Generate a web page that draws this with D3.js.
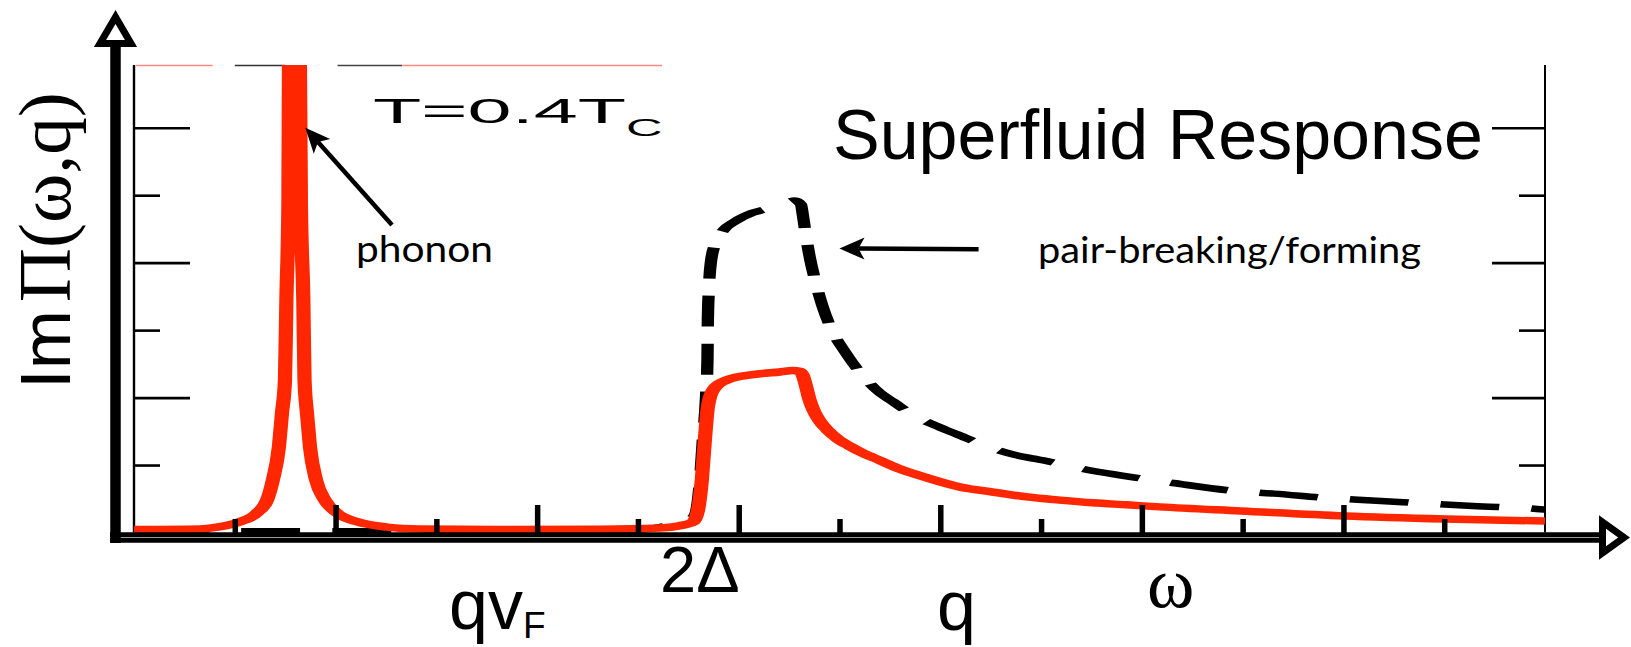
<!DOCTYPE html>
<html>
<head>
<meta charset="utf-8">
<script src="https://cdn.jsdelivr.net/npm/d3@7/dist/d3.min.js"></script>
<style>
  html, body { margin: 0; padding: 0; background: #fff; }
  svg { display: block; }
</style>
</head>
<body>
<svg id="chart" width="1631" height="647"></svg>
<script>
// Im Π(ω,q) of the superfluid at T = 0.4 Tc (solid red) and the
// pair-breaking/forming continuum without the phonon (dashed black).
// x: frequency in axis-tick units, y: response in axis-tick units.
const superfluidResponse = [
  [0.000, 0.045], [0.327, 0.052], [0.412, 0.080], [0.526, 0.160], [0.610, 0.290],
  [0.660, 0.480], [0.689, 0.780], [0.719, 1.270], [0.734, 1.770], [0.749, 2.260],
  [0.756, 3.450], [0.766, 4.860], [0.769, 6.930], [0.796, 9.500], [0.823, 6.930],
  [0.828, 4.860], [0.840, 3.450], [0.846, 2.260], [0.858, 1.770], [0.873, 1.270],
  [0.903, 0.780], [0.947, 0.480], [1.007, 0.290], [1.106, 0.160], [1.255, 0.080],
  [1.419, 0.052], [1.815, 0.046], [2.312, 0.048], [2.609, 0.065], [2.708, 0.100],
  [2.773, 0.156], [2.798, 0.330], [2.817, 0.780], [2.832, 1.370], [2.847, 1.860],
  [2.872, 2.110], [2.941, 2.260], [3.070, 2.340], [3.204, 2.380], [3.269, 2.400],
  [3.300, 2.390], [3.318, 2.330], [3.333, 2.180], [3.350, 1.980], [3.370, 1.820],
  [3.400, 1.660], [3.440, 1.520], [3.490, 1.390], [3.550, 1.280], [3.620, 1.170],
  [3.700, 1.070], [3.800, 0.940], [3.934, 0.810], [4.097, 0.675], [4.261, 0.600],
  [4.430, 0.527], [4.593, 0.480], [4.757, 0.440], [4.926, 0.410], [5.089, 0.380],
  [5.491, 0.320], [6.007, 0.245], [6.508, 0.200], [7.000, 0.170]
];

const pairContinuum = [
  [0.000, 0.020], [1.000, 0.020], [2.000, 0.025], [2.500, 0.045], [2.610, 0.080],
  [2.690, 0.130], [2.723, 0.160], [2.760, 0.200], [2.783, 0.260], [2.808, 0.780],
  [2.822, 1.370], [2.837, 1.970], [2.845, 2.560], [2.847, 3.150], [2.852, 3.600],
  [2.862, 4.010], [2.887, 4.300], [2.927, 4.490], [2.981, 4.610], [3.070, 4.740],
  [3.155, 4.810], [3.239, 4.890], [3.279, 4.920], [3.309, 4.860], [3.318, 4.710],
  [3.333, 4.410], [3.353, 4.070], [3.378, 3.750], [3.413, 3.380], [3.462, 3.000],
  [3.527, 2.680], [3.611, 2.340], [3.700, 2.070], [3.765, 1.940], [3.864, 1.740],
  [3.973, 1.590], [4.087, 1.450], [4.236, 1.270], [4.370, 1.150], [4.509, 1.070],
  [4.683, 0.957], [4.975, 0.810], [5.154, 0.734], [5.461, 0.616], [5.655, 0.576],
  [5.952, 0.505], [6.141, 0.475], [6.453, 0.423], [6.642, 0.393], [6.959, 0.349],
  [7.000, 0.340]
];

const xMajorTicks = [1, 2, 3, 4, 5, 6];
const xMinorTicks = [0.5, 1.5, 2.5, 3.5, 4.5, 5.5, 6.5];
const yMajorTicks = [2, 4, 6];
const yMinorTicks = [1, 3, 5];
const xDomain = [0, 7];
const yDomain = [0, 6.93];

const RED = "#ff2600";
const svg = d3.select("#chart");

const frame = { left: 134, right: 1545, top: 65, bottom: 532.5 };
// the plot panel is drawn horizontally stretched
const stretch = 1.9;

const x = d3.scaleLinear().domain(xDomain).range([frame.left, frame.right]);
const xLocal = d3.scaleLinear().domain(xDomain).range([0, (frame.right - frame.left) / stretch]);
const y = d3.scaleLinear().domain(yDomain).range([frame.bottom, frame.top]);

const defs = svg.append("defs");
defs.append("clipPath").attr("id", "panel-clip")
  .append("rect")
  .attr("x", 0).attr("y", frame.top)
  .attr("width", (frame.right - frame.left) / stretch)
  .attr("height", 480);

// ---- panel frame ----
svg.append("line")
  .attr("x1", frame.left).attr("x2", frame.left)
  .attr("y1", frame.top).attr("y2", frame.bottom)
  .attr("stroke", "#000").attr("stroke-width", 2.4);
svg.append("line")
  .attr("x1", frame.right).attr("x2", frame.right)
  .attr("y1", frame.top).attr("y2", frame.bottom)
  .attr("stroke", "#000").attr("stroke-width", 2);

// top edge of the frame, only partly drawn
const topEdge = [
  { a: 0.01, b: 0.39, c: "#ff8a80" },
  { a: 0.50, b: 0.75, c: "#333" },
  { a: 1.01, b: 1.33, c: "#444" },
  { a: 1.33, b: 2.62, c: "#ff8a80" }
];
svg.append("g").selectAll("line").data(topEdge).join("line")
  .attr("x1", d => x(d.a)).attr("x2", d => x(d.b))
  .attr("y1", frame.top + 0.5).attr("y2", frame.top + 0.5)
  .attr("stroke", d => d.c).attr("stroke-width", 1.4);

// ---- curves ----
const panel = svg.append("g")
  .attr("transform", `translate(${frame.left},0) scale(${stretch},1)`);

const line = d3.line()
  .x(d => xLocal(d[0]))
  .y(d => y(d[1]))
  .curve(d3.curveMonotoneX);

panel.append("path")
  .datum(pairContinuum)
  .attr("clip-path", "url(#panel-clip)")
  .attr("d", line)
  .attr("fill", "none")
  .attr("stroke", "#000")
  .attr("stroke-width", 6.5)
  .attr("stroke-dasharray", "31,17")
  .attr("stroke-dashoffset", 39.6);

panel.append("path")
  .datum(superfluidResponse)
  .attr("clip-path", "url(#panel-clip)")
  .attr("d", line)
  .attr("fill", "none")
  .attr("stroke", RED)
  .attr("stroke-width", 7.5)
  .attr("stroke-linejoin", "round");

// ---- ticks ----
function styleTicks(g, w) {
  g.select(".domain").remove();
  g.selectAll(".tick line").attr("stroke", "#000").attr("stroke-width", w);
  g.selectAll(".tick text").remove();
}
const xAxisY = 533;
svg.append("g").attr("transform", `translate(0,${xAxisY})`)
  .call(d3.axisTop(x).tickValues(xMajorTicks).tickSize(28).tickFormat(""))
  .call(g => styleTicks(g, 5.5));
svg.append("g").attr("transform", `translate(0,${xAxisY})`)
  .call(d3.axisTop(x).tickValues(xMinorTicks).tickSize(14).tickFormat(""))
  .call(g => styleTicks(g, 5.5));

svg.append("g").attr("transform", `translate(${frame.left},0)`)
  .call(d3.axisRight(y).tickValues(yMajorTicks).tickSize(56).tickFormat(""))
  .call(g => styleTicks(g, 2.6));
svg.append("g").attr("transform", `translate(${frame.left},0)`)
  .call(d3.axisRight(y).tickValues(yMinorTicks).tickSize(26).tickFormat(""))
  .call(g => styleTicks(g, 2.6));
svg.append("g").attr("transform", `translate(${frame.right},0)`)
  .call(d3.axisLeft(y).tickValues(yMajorTicks).tickSize(53).tickFormat(""))
  .call(g => styleTicks(g, 2.6));
svg.append("g").attr("transform", `translate(${frame.right},0)`)
  .call(d3.axisLeft(y).tickValues(yMinorTicks).tickSize(26).tickFormat(""))
  .call(g => styleTicks(g, 2.6));

// ---- thick axis arrows ----
svg.append("line")
  .attr("x1", 110).attr("x2", 1603).attr("y1", 537.5).attr("y2", 537.5)
  .attr("stroke", "#000").attr("stroke-width", 10.5);
svg.append("line")
  .attr("x1", 110).attr("x2", 1600).attr("y1", 537.5).attr("y2", 537.5)
  .attr("stroke", "#9a9a9a").attr("stroke-width", 1.2);
svg.append("line")
  .attr("x1", 115.5).attr("x2", 115.5).attr("y1", 44).attr("y2", 543)
  .attr("stroke", "#000").attr("stroke-width", 10.5);

svg.append("path")
  .attr("d", "M115.5,17 L100,43.5 L131,43.5 Z")
  .attr("fill", "#fff").attr("stroke", "#000")
  .attr("stroke-width", 7).attr("stroke-linejoin", "miter").attr("stroke-miterlimit", 10);
svg.append("path")
  .attr("d", "M1602.5,522 L1624,537.5 L1602.5,553 Z")
  .attr("fill", "#fff").attr("stroke", "#000")
  .attr("stroke-width", 7).attr("stroke-linejoin", "miter").attr("stroke-miterlimit", 10);

// ---- annotation arrows (positions in data units) ----
function arrow(from, to) {
  const x1 = x(from[0]), y1 = y(from[1]), x2 = x(to[0]), y2 = y(to[1]);
  const len = Math.hypot(x2 - x1, y2 - y1);
  const ux = (x2 - x1) / len, uy = (y2 - y1) / len;
  const nx = -uy, ny = ux;
  const L = 25, H = 11, notch = 6;
  const bx = x2 - L * ux, by = y2 - L * uy;
  const mx = x2 - (L - notch) * ux, my = y2 - (L - notch) * uy;
  svg.append("line")
    .attr("x1", x1).attr("y1", y1).attr("x2", mx).attr("y2", my)
    .attr("stroke", "#000").attr("stroke-width", 4.5);
  svg.append("path")
    .attr("d", `M${x2},${y2} L${bx + H * nx},${by + H * ny} L${mx},${my} L${bx - H * nx},${by - H * ny} Z`)
    .attr("fill", "#000");
}
arrow([1.28, 4.56], [0.85, 6.0]);
arrow([4.19, 4.20], [3.50, 4.21]);

// ---- text ----
const sans = "'Liberation Sans', Arial, Helvetica, sans-serif";
const serif = "'Liberation Serif', 'Times New Roman', serif";
const humanist = "Lato, 'Open Sans', sans-serif";

// y-axis title
const yTitle = svg.append("text")
  .attr("transform", "translate(70,389) rotate(-90)")
  .attr("fill", "#000");
yTitle.append("tspan").attr("font-family", sans).attr("font-size", 71).text("Im");
yTitle.append("tspan").attr("font-family", serif).attr("font-size", 75).attr("dx", 8).text("Π(ω,q)");

// temperature label, horizontally stretched like the panel
const tLabel = svg.append("text")
  .attr("transform", "translate(373,122.5) scale(2.2,1)")
  .attr("font-family", sans).attr("font-size", 36).attr("fill", "#000");
tLabel.append("tspan").text("T=0.4T");
tLabel.append("tspan").attr("font-size", 23).attr("dy", 13.5).text("C");

svg.append("text")
  .attr("x", 833).attr("y", 159)
  .attr("font-family", sans).attr("font-size", 70).attr("fill", "#000")
  .text("Superfluid Response");

svg.append("text")
  .attr("x", 356).attr("y", 262)
  .attr("font-family", humanist).attr("font-size", 37).attr("fill", "#000")
  .attr("textLength", 137).attr("lengthAdjust", "spacingAndGlyphs")
  .text("phonon");

svg.append("text")
  .attr("x", 1038).attr("y", 263)
  .attr("font-family", humanist).attr("font-size", 37).attr("fill", "#000")
  .attr("textLength", 383).attr("lengthAdjust", "spacingAndGlyphs")
  .text("pair-breaking/forming");

// x-axis annotations
svg.append("text")
  .attr("x", 660).attr("y", 592)
  .attr("font-family", sans).attr("font-size", 65).attr("fill", "#000")
  .text("2Δ");

const qv = svg.append("text")
  .attr("x", 449).attr("y", 629)
  .attr("font-family", sans).attr("font-size", 70).attr("fill", "#000");
qv.append("tspan").text("qv");
qv.append("tspan").attr("font-size", 37).attr("dy", 9).text("F");

svg.append("text")
  .attr("x", 937).attr("y", 630)
  .attr("font-family", sans).attr("font-size", 70).attr("fill", "#000")
  .text("q");

svg.append("text")
  .attr("x", 1147).attr("y", 607)
  .attr("font-family", serif).attr("font-size", 72).attr("fill", "#000")
  .text("ω");
</script>
</body>
</html>
